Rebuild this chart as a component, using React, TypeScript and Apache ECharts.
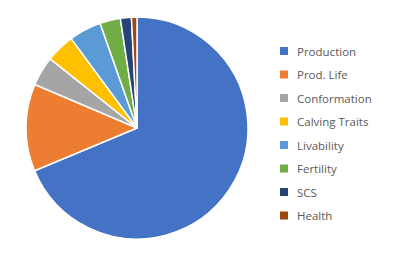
import React, { useEffect, useRef } from "react";
import * as echarts from "echarts";

const categories = ["Production", "Prod. Life", "Conformation", "Calving Traits", "Livability", "Fertility", "SCS", "Health"];
const values = [68.7, 12.7, 4.3, 4.2, 4.7, 3.0, 1.6, 0.8];
const colors = ["#4472C4", "#ED7D31", "#A5A5A5", "#FFC000", "#5B9BD5", "#70AD47", "#264478", "#9E480E"];

export default function App() {
  const ref = useRef<HTMLDivElement>(null);
  useEffect(() => {
    const chart = echarts.init(ref.current!, null, { renderer: "svg" });
    chart.setOption({
      animation: false,
      backgroundColor: "#ffffff",
      color: colors,
      legend: {
        orient: "vertical",
        left: 273,
        top: 40,
        itemWidth: 10,
        itemHeight: 10,
        itemGap: 11.5,
        icon: "rect",
        selectedMode: false,
        textStyle: {
          fontFamily: "Open Sans",
          fontSize: 11.5,
          color: "#595959",
          lineHeight: 11,
          padding: [0, 0, 0, 3],
        },
        data: categories,
      },
      series: [
        {
          type: "pie",
          center: [137, 128],
          radius: 111,
          startAngle: 90,
          clockwise: true,
          label: { show: false },
          labelLine: { show: false },
          itemStyle: { borderColor: "#ffffff", borderWidth: 1.5 },
          emphasis: { disabled: true },
          data: categories.map((name, i) => ({ name, value: values[i] })),
        },
      ],
    });
    return () => chart.dispose();
  }, []);
  return <div ref={ref} style={{ width: 400, height: 258, position: "absolute", left: 0, top: 0 }} />;
}
